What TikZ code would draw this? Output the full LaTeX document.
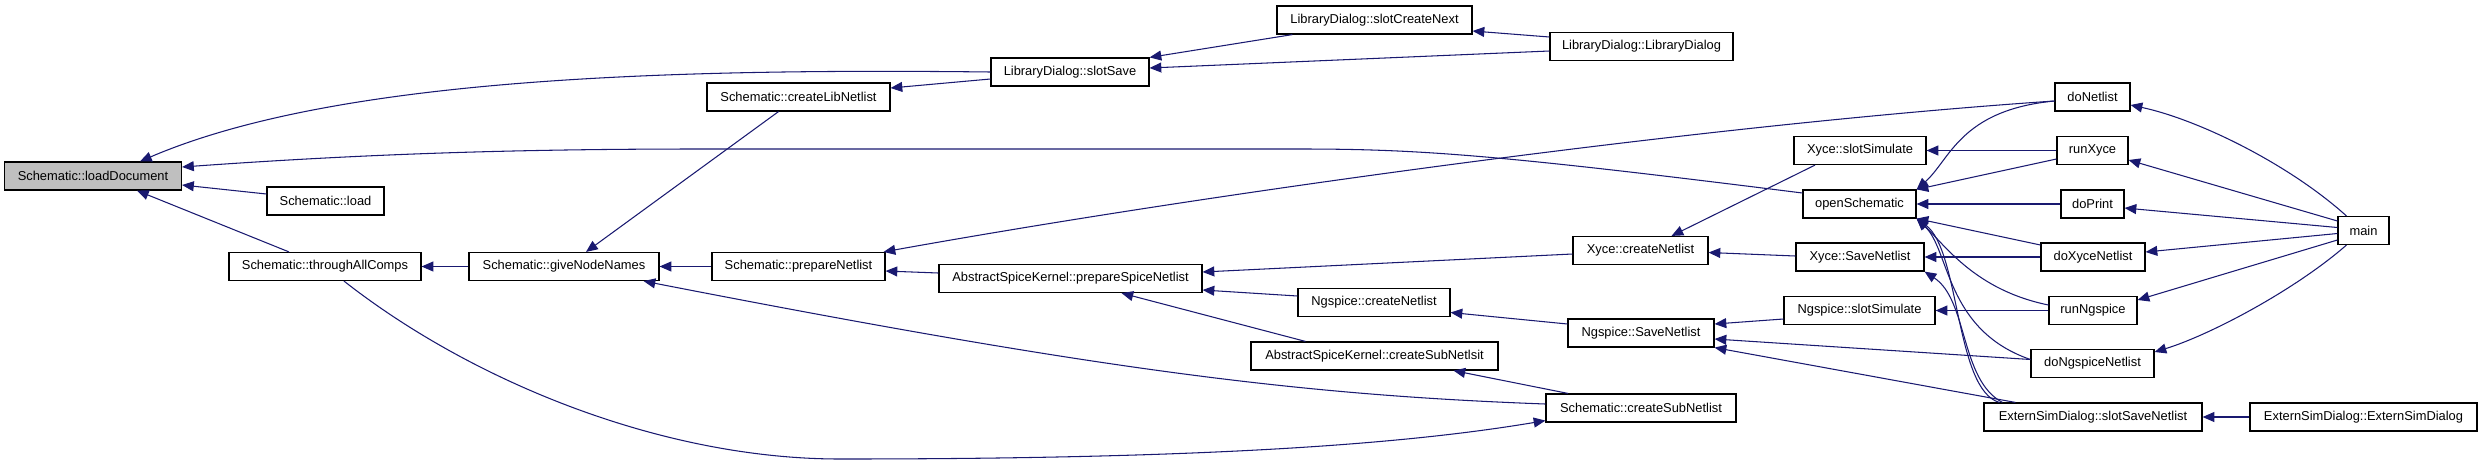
\documentclass[tikz,border=0pt]{standalone}
\usepackage{fontspec}
\setmainfont{Liberation Sans}
\usepackage{xcolor}
\usepackage{tikz}
\usetikzlibrary{arrows.meta, calc}
\definecolor{edgeblue}{HTML}{191970}
\definecolor{rootgray}{HTML}{BFBFBF}

\begin{document}
\begin{tikzpicture}[x=0.03cm, y=-0.03cm,
        func/.style={draw, fill=white, line width=1pt, minimum height=0.84cm, inner sep=2pt, font=\fontsize{11}{13}\selectfont},
        wd/.style={minimum width=#1*0.03cm},
        root/.style={fill=rootgray},
        calls/.style={{Triangle[length=10pt,width=8.5pt]}-, draw=edgeblue, line width=0.9pt}]
        \useasboundingbox (0,0) rectangle (2483,464);

        % root and first callers
        \node[func, root, wd=177] (loadDoc) at (93,176) {Schematic::loadDocument};
        \node[func, wd=117] (load) at (325.5,201) {Schematic::load};
        \node[func, wd=192] (allComps) at (325,266.5) {Schematic::throughAllComps};
        \node[func, wd=190] (giveNames) at (564,266.5) {Schematic::giveNodeNames};
        \node[func, wd=183] (libNetlist) at (798.5,97) {Schematic::createLibNetlist};
        \node[func, wd=173] (prepNetlist) at (798.5,266.5) {Schematic::prepareNetlist};

        % library dialog
        \node[func, wd=158] (slotSave) at (1070,72) {LibraryDialog::slotSave};
        \node[func, wd=195] (createNext) at (1374.5,20) {LibraryDialog::slotCreateNext};
        \node[func, wd=183] (libDialog) at (1641.5,46.5) {LibraryDialog::LibraryDialog};

        % spice kernels
        \node[func, wd=263] (prepSpice) at (1070.5,278.5) {AbstractSpiceKernel::prepareSpiceNetlist};
        \node[func, wd=152] (ngCreate) at (1374,302.5) {Ngspice::createNetlist};
        \node[func, wd=247] (subNetlsit) at (1374.5,356) {AbstractSpiceKernel::createSubNetlsit};
        \node[func, wd=135] (xyceCreate) at (1640.5,250.5) {Xyce::createNetlist};
        \node[func, wd=146] (ngSave) at (1641,333) {Ngspice::SaveNetlist};
        \node[func, wd=190] (subNetlist) at (1641,408) {Schematic::createSubNetlist};

        % simulators and main
        \node[func, wd=132] (xyceSim) at (1860,150.5) {Xyce::slotSimulate};
        \node[func, wd=113] (openSch) at (1859.5,204) {openSchematic};
        \node[func, wd=128] (xyceSave) at (1860,257) {Xyce::SaveNetlist};
        \node[func, wd=151] (ngSim) at (1859.5,310.5) {Ngspice::slotSimulate};
        \node[func, wd=75] (doNetlist) at (2092.5,97) {doNetlist};
        \node[func, wd=71] (runXyce) at (2092.5,150.5) {runXyce};
        \node[func, wd=63] (doPrint) at (2092.5,204) {doPrint};
        \node[func, wd=104] (doXyce) at (2093,257) {doXyceNetlist};
        \node[func, wd=88] (runNg) at (2093,310.5) {runNgspice};
        \node[func, wd=123] (doNg) at (2092.5,363.5) {doNgspiceNetlist};
        \node[func, wd=218] (extSave) at (2093,417) {ExternSimDialog::slotSaveNetlist};
        \node[func, wd=51] (main) at (2363.5,230.5) {main};
        \node[func, wd=227] (extDialog) at (2363.5,417) {ExternSimDialog::ExternSimDialog};

        % calls into loadDocument
        \draw[calls] ($(loadDoc.north)+(47,0)$) .. controls (330,80) and (650,68) .. (slotSave.west);
        \draw[calls] ($(loadDoc.east)+(0,-9)$) .. controls (350,155) and (500,149) .. (700,149)
            -- (1300,149) .. controls (1420,149) and (1500,155) .. ($(openSch.west)+(0,-11)$);
        \draw[calls] ($(loadDoc.east)+(0,9)$) -- ($(load.west)+(0,-7)$);
        \draw[calls] ($(loadDoc.south)+(44,0)$) -- ($(allComps.north)+(-36,0)$);

        % schematic internals
        \draw[calls] (allComps.east) -- (giveNames.west);
        \draw[calls] ($(giveNames.north)+(22,0)$) -- ($(libNetlist.south)+(-20,0)$);
        \draw[calls] (giveNames.east) -- (prepNetlist.west);
        \draw[calls] ($(giveNames.south east)+(-16,0)$) .. controls (1100,370) and (1300,395) .. ($(subNetlist.west)+(0,-4)$);
        \draw[calls] ($(subNetlist.south west)+(0,-2)$) .. controls (1400,445) and (1200,459) .. (840,459)
            .. controls (660,459) and (470,380) .. ($(allComps.south)+(19,0)$);
        \draw[calls] ($(libNetlist.east)+(0,-9)$) -- ($(slotSave.west)+(0,7)$);
        \draw[calls] ($(prepNetlist.north east)+(-2,0)$) .. controls (1200,195) and (1700,125) .. ($(doNetlist.west)+(0,4)$);
        \draw[calls] ($(prepNetlist.east)+(0,4.5)$) -- ($(prepSpice.west)+(0,-5.5)$);

        % library dialog
        \draw[calls] (slotSave.north east) -- ($(createNext.south west)+(16,0)$);
        \draw[calls] ($(slotSave.east)+(0,-4)$) -- ($(libDialog.west)+(0,4.5)$);
        \draw[calls] ($(createNext.east)+(0,11)$) -- ($(libDialog.west)+(0,-9.5)$);

        % spice kernels
        \draw[calls] ($(prepSpice.east)+(0,-6.5)$) -- ($(xyceCreate.west)+(0,3.5)$);
        \draw[calls] ($(prepSpice.east)+(0,11.5)$) -- ($(ngCreate.west)+(0,-6.5)$);
        \draw[calls] ($(prepSpice.south)+(51,0)$) -- ($(subNetlsit.north)+(-69,0)$);
        \draw[calls] ($(xyceCreate.north)+(31,0)$) -- ($(xyceSim.south)+(-45,0)$);
        \draw[calls] ($(xyceCreate.east)+(0,2)$) -- ($(xyceSave.west)+(0,-1)$);
        \draw[calls] ($(ngCreate.east)+(0,10)$) -- ($(ngSave.west)+(0,-9)$);
        \draw[calls] ($(subNetlsit.south)+(79,0)$) -- ($(subNetlist.north)+(-73,0)$);
        \draw[calls] ($(ngSave.east)+(0,-9)$) -- ($(ngSim.west)+(0,8.5)$);
        \draw[calls] ($(ngSave.east)+(0,6)$) -- ($(doNg.west)+(0,-4)$);
        \draw[calls] (ngSave.south east) -- ($(extSave.north west)+(32,0)$);
        \draw[calls] (xyceSave.south east) .. controls (1968,300) and (1960,380) .. ($(extSave.north west)+(19,0)$);

        % openSchematic callers
        \draw[calls] (openSch.north east) .. controls (1950,160) and (1960,110) .. ($(doNetlist.west)+(0,4)$);
        \draw[calls] (openSch.north east) -- ($(runXyce.west)+(0,8.5)$);
        \draw[calls] (openSch.east) -- (doPrint.west);
        \draw[calls] (openSch.south east) -- ($(doXyce.west)+(0,-12)$);
        \draw[calls] (openSch.south east) .. controls (1945,245) and (1975,290) .. ($(runNg.west)+(0,-5.5)$);
        \draw[calls] (openSch.south east) .. controls (1950,250) and (1945,330) .. ($(doNg.west)+(0,-4)$);
        \draw[calls] (openSch.south east) .. controls (1960,250) and (1955,390) .. ($(extSave.north west)+(16,0)$);

        % simulator slots
        \draw[calls] (xyceSim.east) -- (runXyce.west);
        \draw[calls] (xyceSave.east) -- (doXyce.west);
        \draw[calls] (ngSim.east) -- (runNg.west);
        \draw[calls] (extSave.east) -- (extDialog.west);

        % main
        \draw[calls] ($(doNetlist.east)+(0,8)$) .. controls (2200,120) and (2290,165) .. ($(main.north west)+(9,0)$);
        \draw[calls] ($(runXyce.east)+(0,9.5)$) -- ($(main.west)+(0,-9.5)$);
        \draw[calls] ($(doPrint.east)+(0,4)$) -- ($(main.west)+(0,-3)$);
        \draw[calls] ($(doXyce.east)+(0,-5)$) -- ($(main.west)+(0,3)$);
        \draw[calls] ($(runNg.east)+(0,-10.5)$) -- ($(main.west)+(0,9.5)$);
        \draw[calls] ($(doNg.east)+(0,-11.5)$) .. controls (2210,335) and (2295,290) .. ($(main.south west)+(9,0)$);
\end{tikzpicture}
\end{document}
